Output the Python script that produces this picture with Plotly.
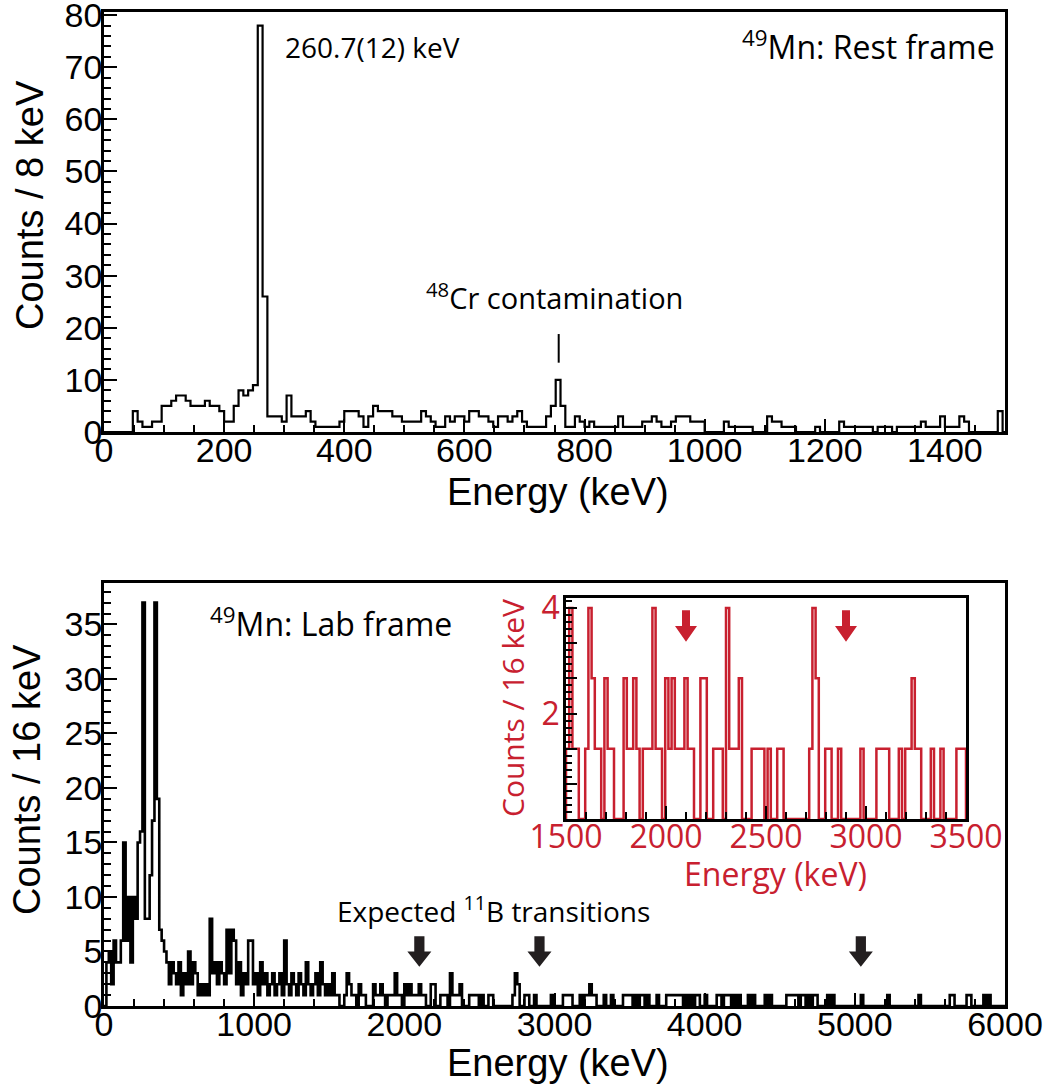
import numpy as np
import plotly.graph_objects as go

# ---------------- data ----------------
# Top panel: 49Mn rest frame, 8 keV bins from 0 to 1504 keV
top_start = 0
top_bin_width = 8
top_counts = [
    0, 0, 0, 0, 0, 0,
    4, 2, 1, 1, 2, 2,
    5, 5, 6, 7, 7, 6,
    5, 5, 5, 6, 5, 5,
    4, 2, 2, 5, 8, 7,
    8, 9, 78, 26, 3, 3,
    3, 2, 7, 3, 3, 3,
    4, 2, 1, 1, 1, 1,
    1, 2, 4, 4, 4, 3,
    1, 3, 5, 4, 4, 4,
    3, 3, 2, 2, 2, 2,
    4, 3, 2, 1, 1, 3,
    2, 3, 3, 2, 4, 4,
    3, 3, 2, 1, 3, 3,
    2, 3, 4, 2, 1, 1,
    1, 1, 3, 5, 10, 5,
    1, 1, 3, 2, 1, 2,
    1, 1, 1, 1, 1, 3,
    1, 1, 1, 1, 2, 2,
    3, 2, 1, 1, 2, 3,
    3, 3, 2, 2, 2, 0,
    0, 0, 0, 2, 1, 1,
    1, 1, 1, 0, 0, 0,
    3, 2, 2, 1, 1, 1,
    0, 0, 0, 0, 1, 0,
    0, 0, 0, 2, 1, 1,
    1, 1, 1, 1, 0, 1,
    1, 1, 0, 1, 1, 1,
    1, 1, 2, 1, 1, 1,
    3, 1, 1, 1, 3, 2,
    0, 0, 0, 0, 0, 0,
    4, 0,
]

# Bottom panel: 49Mn lab frame, 16 keV bins from 0 to 6000 keV
bot_start = 0
bot_bin_width = 16
bot_counts = [
    0, 4, 5, 2, 6, 4, 4, 6, 15, 6, 10, 4,
    10, 8, 15, 16, 37, 8, 8, 12, 17, 37, 19, 7,
    6, 5, 4, 2, 4, 3, 2, 4, 1, 3, 2, 5,
    2, 4, 3, 1, 2, 1, 2, 1, 8, 3, 4, 2,
    4, 3, 2, 7, 3, 7, 6, 2, 4, 1, 3, 2,
    6, 6, 2, 3, 1, 4, 2, 3, 1, 2, 3, 1,
    2, 3, 1, 6, 2, 1, 3, 2, 1, 3, 2, 1,
    4, 2, 1, 2, 3, 1, 4, 2, 1, 2,
    1, 3, 1, 1, 0, 0, 1, 3, 2, 1, 1, 0,
    2, 1, 1, 0, 0, 0, 2, 1, 1, 2, 1, 0,
    1, 1, 1, 3, 1, 1, 0, 2, 1, 2, 1, 1,
    1, 2, 1, 1, 0, 0, 2, 2, 0, 0, 1, 1,
    1, 0, 3, 1, 1, 1, 2, 0, 0, 0, 1, 1,
    1, 1, 0, 1, 0, 0, 1, 1, 0, 0, 0, 0,
    0, 0, 0, 0, 1, 3, 2, 0, 0, 1, 1, 0,
    0, 1, 0, 0, 0, 0, 0, 0, 1, 0, 0, 0,
    0, 1, 1, 1, 1, 0, 0, 0, 1, 0, 1, 1,
    2, 1, 1, 0, 0, 0, 1, 0, 0, 1, 0, 0,
    0, 0, 1, 1, 1,
    1, 0, 1, 0, 1, 1, 0, 1, 0, 0, 0, 1,
    0, 0, 0, 1, 1, 1, 1, 1, 1, 1, 0, 1,
    0, 1, 0, 1, 1, 0, 0, 1, 0, 0, 0, 0,
    1, 1, 0, 1, 1, 1, 0, 1, 0, 1, 0, 0,
    0, 1, 0, 1, 0, 0, 0, 0, 1, 0, 1, 0,
    0, 0, 0, 0, 0, 1, 1, 1, 1, 1, 0, 1,
    1, 0, 1, 0, 1, 1, 0, 0, 0, 0, 1, 0,
    1, 0, 0, 0, 0, 0, 0, 0, 0, 0, 0, 0,
    1, 0, 0, 0, 0, 0, 0, 0, 0, 0, 0, 1,
    0, 0, 0, 0, 0, 0, 0, 0, 0, 0, 0, 0,
    1, 0, 0, 0, 0, 0, 0, 0, 0, 0, 0, 0,
    0, 1, 1, 0, 0, 0, 0, 0, 1, 1, 0, 0,
    0, 0, 0, 1, 0, 1, 0, 0, 0, 0, 0, 0,
]

# Inset: 1500-3500 keV, 16 keV bins, values as read on the inset axis
inset_start = 1500
inset_bin_width = 16
inset_values = [
    1.33, 4, 1.33, 1.33, 0, 0, 1.33, 4, 2.67, 1.33, 1.33, 0,
    2.67, 1.33, 1.33, 0, 0, 0, 2.67, 1.33, 1.33, 2.67, 1.33, 0,
    1.33, 1.33, 1.33, 4, 1.33, 1.33, 0, 2.67, 1.33, 2.67, 1.33, 1.33,
    1.33, 2.67, 1.33, 1.33, 0, 0, 2.67, 2.67, 0, 0, 1.33, 1.33,
    1.33, 0, 4, 1.33, 1.33, 1.33, 2.67, 0, 0, 0, 1.33, 1.33,
    1.33, 1.33, 0, 1.33, 0, 0, 1.33, 1.33, 0, 0, 0, 0,
    0, 0, 0, 0, 1.33, 4, 2.67, 0, 0, 1.33, 1.33, 0,
    0, 1.33, 0, 0, 0, 0, 0, 0, 1.33, 0, 0, 0,
    0, 1.33, 1.33, 1.33, 1.33, 0, 0, 0, 1.33, 0, 1.33, 1.33,
    2.67, 1.33, 1.33, 0, 0, 0, 1.33, 0, 0, 1.33, 0, 0,
    0, 0, 1.33, 1.33, 1.33,
]

inset_ytick_vals = [0, 0.667, 1.333, 2, 2.667, 3.333, 4]
inset_ytick_text = ["", "", "", "2", "", "", "4"]

arrow_energies_main = [2100, 2900, 5040]
arrow_energies_inset = [2100, 2900]
cr48_energy = 757

assert len(top_counts) == 188, len(top_counts)
assert len(bot_counts) == 375, len(bot_counts)
assert len(inset_values) == 125, len(inset_values)

# ---------------- helpers ----------------
def step(start, width, vals):
    edges = start + width * np.arange(len(vals) + 1)
    x = [edges[0]] + list(edges) + [edges[-1]]
    y = [0] + list(vals) + [vals[-1], 0]
    return x, y

RED = "#c8202f"
AX_FONT = "Liberation Sans, Arial, sans-serif"
TXT_FONT = "Open Sans, Noto Sans, sans-serif"

W, H = 1050, 1089
def px(x):
    return x / W
def py(y):
    return 1 - y / H

fig = go.Figure()

tx, ty = step(top_start, top_bin_width, top_counts)
fig.add_trace(go.Scatter(x=tx, y=ty, mode="lines", line=dict(color="black", width=2.2, shape="hv"),
                         xaxis="x", yaxis="y", hoverinfo="skip", showlegend=False))
bx, by = step(bot_start, bot_bin_width, bot_counts)
fig.add_trace(go.Scatter(x=bx, y=by, mode="lines", line=dict(color="black", width=2.6, shape="hv"),
                         xaxis="x2", yaxis="y2", hoverinfo="skip", showlegend=False))
ix, iy = step(inset_start, inset_bin_width, inset_values)
fig.add_trace(go.Scatter(x=ix, y=iy, mode="lines", line=dict(color=RED, width=2.5, shape="hv"),
                         xaxis="x3", yaxis="y3", hoverinfo="skip", showlegend=False))

def main_axis(domain, rng, dtick, minor, anchor, standoff, font=AX_FONT, fcol="black", size=34):
    return dict(domain=domain, range=rng, tick0=0, dtick=dtick, ticks="inside", ticklen=13,
                tickwidth=2, tickcolor="black", automargin=False, ticklabeloverflow="allow",
                minor=dict(dtick=minor, tick0=0, ticks="inside", ticklen=7, tickwidth=2, tickcolor="black"),
                showline=True, linewidth=2.5, linecolor="black", mirror=True,
                showgrid=False, zeroline=False, anchor=anchor, ticklabelstandoff=standoff,
                tickfont=dict(family=font, size=size, color=fcol))

xdom = [px(104), px(1005)]
fig.update_layout(
    width=W, height=H, margin=dict(l=0, r=0, t=0, b=0, autoexpand=False),
    paper_bgcolor="white", plot_bgcolor="white",
    xaxis=main_axis(xdom, [0, 1500], 200, 50, "y", -14),
    yaxis=main_axis([py(432), py(12)], [0, 80.6], 10, 2, "x", -8),
    xaxis2=main_axis(xdom, [0, 6000], 1000, 200, "y2", -14),
    yaxis2=main_axis([py(1006), py(583)], [0, 38.8], 5, 1, "x2", -8),
    xaxis3=main_axis([px(566), px(966)], [1500, 3500], 500, 100, "y3", -12, TXT_FONT, RED, 32),
    yaxis3=dict(domain=[py(819), py(598)], range=[0, 4.19], tickvals=inset_ytick_vals,
                ticktext=inset_ytick_text, ticks="inside", ticklen=11, tickwidth=2, tickcolor="black",
                minor=dict(dtick=0.1333, tick0=0, ticks="inside", ticklen=6, tickwidth=2, tickcolor="black"),
                showline=True, linewidth=2.5, linecolor="black", mirror=True, automargin=False,
                showgrid=False, zeroline=False, anchor="x3", ticklabeloverflow="allow",
                ticklabelstandoff=-3,
                tickfont=dict(family=TXT_FONT, size=32, color=RED)),
)

ann = []
def text(x, y, s, size, xanchor="center", color="black", font=TXT_FONT, angle=0):
    ann.append(dict(x=x, y=y, xref="paper", yref="paper", text=s, showarrow=False,
                    xanchor=xanchor, yanchor="middle", textangle=angle,
                    font=dict(family=font, size=size, color=color)))

# axis titles
text(px(30), py(205), "Counts / 8 keV", 38, font=AX_FONT, angle=-90)
text(px(558), py(492), "Energy (keV)", 38, font=AX_FONT)
text(px(27), py(780), "Counts / 16 keV", 38, font=AX_FONT, angle=-90)
text(px(558), py(1063), "Energy (keV)", 38, font=AX_FONT)
text(px(512), py(708), "Counts / 16 keV", 30, color=RED, angle=-90)
text(px(775), py(873), "Energy (keV)", 32, color=RED)

# labels
text(px(283), py(47), "260.7(12) keV", 28, xanchor="left")
text(px(997), py(45), "<sup>49</sup>Mn: Rest frame", 32, xanchor="right")
text(px(554), py(296), "<sup>48</sup>Cr contamination", 29)
text(px(208), py(622), "<sup>49</sup>Mn: Lab frame", 32, xanchor="left")
text(px(335), py(909), "Expected <sup>11</sup>B transitions", 28, xanchor="left")
fig.update_layout(annotations=ann)

# block arrows (sizes in axis units)
def arrow_path(e, shaft_hw, head_hw, y_top, y_base, y_tip):
    return (f"M {e-shaft_hw},{y_top} L {e+shaft_hw},{y_top} L {e+shaft_hw},{y_base} "
            f"L {e+head_hw},{y_base} L {e},{y_tip} L {e-head_hw},{y_base} L {e-shaft_hw},{y_base} Z")

for e in arrow_energies_main:
    fig.add_shape(type="path", xref="x2", yref="y2",
                  path=arrow_path(e, 34, 80, 6.4, 5.0, 3.6),
                  fillcolor="#231f20", line=dict(width=0))
for e in arrow_energies_inset:
    fig.add_shape(type="path", xref="x3", yref="y3",
                  path=arrow_path(e, 20, 55, 3.96, 3.66, 3.36),
                  fillcolor=RED, line=dict(width=0))

fig.add_shape(type="line", xref="x", yref="y", x0=cr48_energy, x1=cr48_energy, y0=13.3, y1=18.8,
              line=dict(color="black", width=2))

# remove the default page margin so the figure sits at the window's top-left corner
fig.write_html("out.html", config={"displayModeBar": False},
               post_script="document.body.style.margin='0px';")
